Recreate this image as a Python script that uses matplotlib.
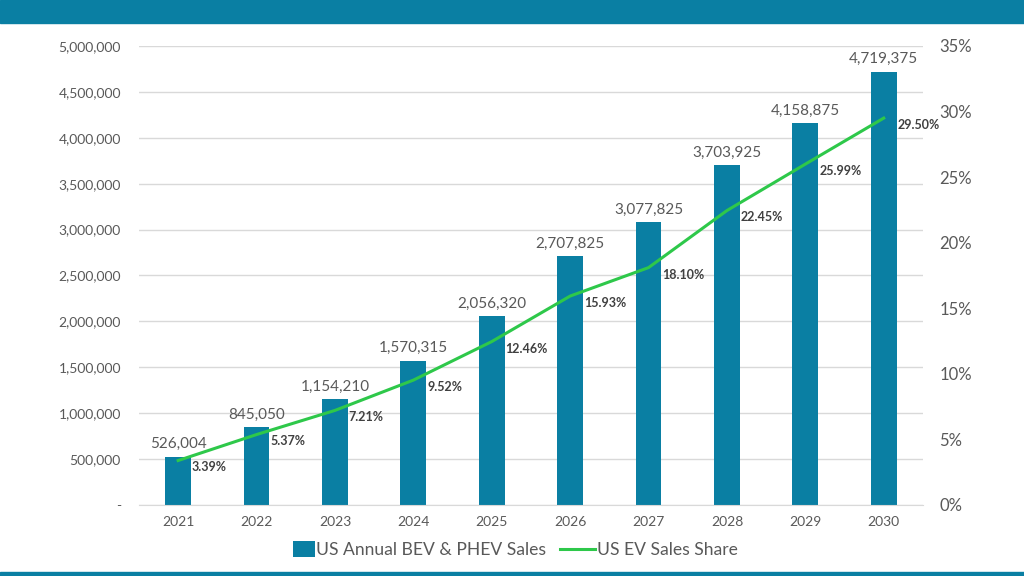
import matplotlib.pyplot as plt
from matplotlib.patches import Rectangle
from matplotlib.legend_handler import HandlerPatch
from matplotlib.ticker import FuncFormatter, MultipleLocator

years = ['2021', '2022', '2023', '2024', '2025', '2026', '2027', '2028', '2029', '2030']
sales = [526004, 845050, 1154210, 1570315, 2056320, 2707825, 3077825, 3703925, 4158875, 4719375]
share = [3.39, 5.37, 7.21, 9.52, 12.46, 15.93, 18.10, 22.45, 25.99, 29.50]

BAR = '#0a7fa3'
GREEN = '#2ec84a'
GREY = '#595959'

plt.rcParams['font.family'] = ['Lato', 'DejaVu Sans']

fig = plt.figure(figsize=(10.24, 5.76), dpi=100)
fig.patches.append(Rectangle((0, 1 - 23 / 576), 1, 23 / 576, transform=fig.transFigure,
                             color=BAR, zorder=0))
fig.patches.append(Rectangle((0, 0), 1, 4 / 576, transform=fig.transFigure,
                             color=BAR, zorder=0))

ax = fig.add_axes([0.1357, 0.1233, 0.7656, 0.7969])
x = range(len(years))
bars = ax.bar(x, sales, width=0.33, color=BAR, zorder=2, label='US Annual BEV & PHEV Sales')
ax.set_xlim(-0.5, len(years) - 0.5)
ax.set_ylim(0, 5000000)
ax.yaxis.set_major_locator(MultipleLocator(500000))
ax.yaxis.set_major_formatter(FuncFormatter(lambda v, p: '-' if v == 0 else f'{int(v):,}'))
ax.set_xticks(list(x))
ax.set_xticklabels(years)
ax.grid(axis='y', color='#d9d9d9', linewidth=1, zorder=0)
for s in ['top', 'right', 'left']:
    ax.spines[s].set_visible(False)
ax.spines['bottom'].set_color('#d9d9d9')
ax.tick_params(axis='both', length=0, colors=GREY, labelsize=10)
ax.tick_params(axis='y', pad=13)
ax.tick_params(axis='x', pad=8)

for b, v in zip(bars, sales):
    ax.annotate(f'{v:,}', (b.get_x() + b.get_width() / 2, v), xytext=(0, 4),
                textcoords='offset points', ha='center', va='bottom',
                fontsize=11, color=GREY)

ax2 = ax.twinx()
line, = ax2.plot(list(x), share, color=GREEN, linewidth=2.2, zorder=3, label='US EV Sales Share')
ax2.set_ylim(0, 35)
ax2.yaxis.set_major_locator(MultipleLocator(5))
ax2.yaxis.set_major_formatter(FuncFormatter(lambda v, p: f'{v:.0f}%'))
for s in ['top', 'right', 'left', 'bottom']:
    ax2.spines[s].set_visible(False)
ax2.tick_params(axis='y', length=0, colors=GREY, labelsize=12, pad=12)

for i, v in zip(x, share):
    ax2.annotate(f'{v:.2f}%', (i, v), xytext=(10, -5), textcoords='offset points',
                 ha='left', va='center', fontsize=9, fontweight='bold', color='#404040')


def narrow_box(legend, orig_handle, xdescent, ydescent, width, height, fontsize):
    return Rectangle((-xdescent + width * 0.38, -ydescent - height * 0.05),
                     width * 0.62, height * 1.1)


fig.legend([bars[0], line], ['US Annual BEV & PHEV Sales', 'US EV Sales Share'],
           loc='center', bbox_to_anchor=(0.497, 0.045), ncol=2, frameon=False,
           fontsize=12.6, labelcolor=GREY, handlelength=2.0, handleheight=0.85,
           columnspacing=0.8, handletextpad=0.1,
           handler_map={bars[0]: HandlerPatch(patch_func=narrow_box)})

fig.savefig('out.png', dpi=100)
